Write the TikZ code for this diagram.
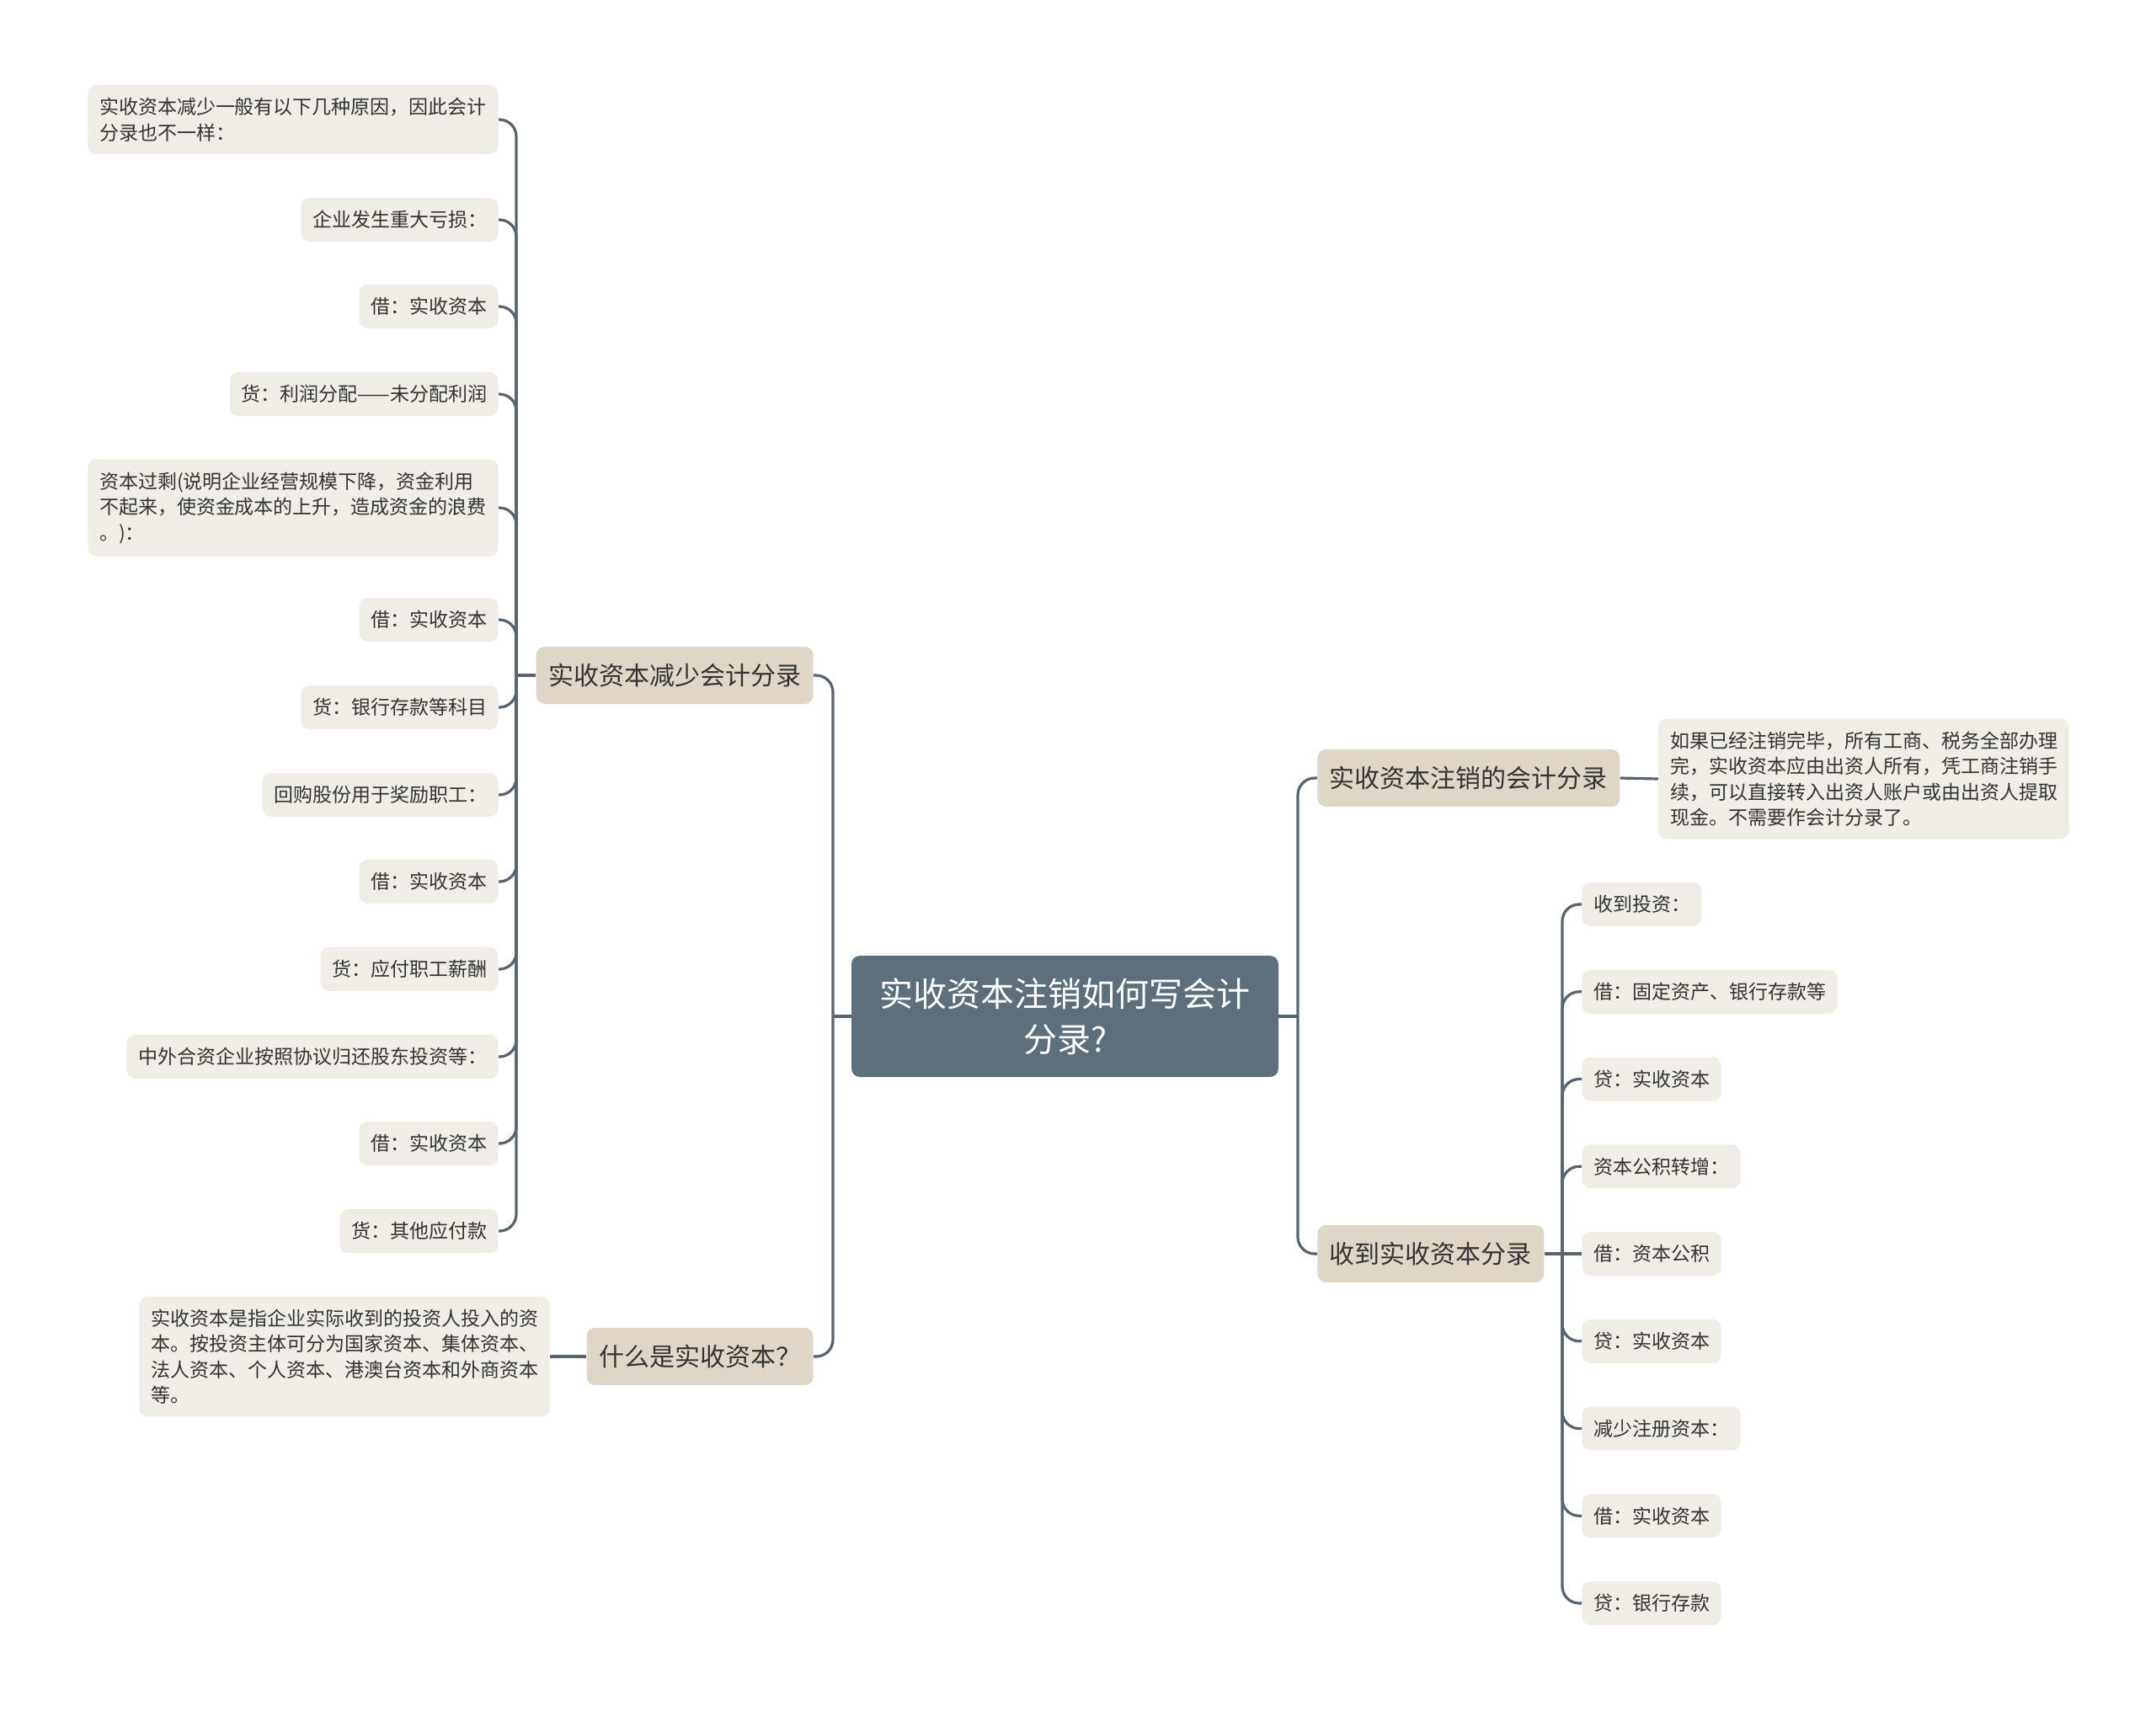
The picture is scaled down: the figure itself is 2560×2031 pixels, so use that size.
\documentclass[tikz,border=0pt]{standalone}
\usepackage{fontspec}
\setmainfont{Noto Sans CJK SC}
\definecolor{RootSlate}{HTML}{5D6F7B}
\definecolor{BranchTan}{HTML}{E0D6C8}
\definecolor{LeafCream}{HTML}{F0EDE6}
\definecolor{LineSlate}{HTML}{56656F}
\definecolor{InkGray}{HTML}{333333}
\tikzset{
  rootbox/.style  = {fill=RootSlate, rounded corners=5pt, align=center, text=white,
                     font=\fontsize{20}{27}\selectfont, minimum width=253.5pt,
                     minimum height=72pt, inner sep=0pt},
  branch/.style   = {fill=BranchTan, rounded corners=5pt, text=InkGray,
                     font=\fontsize{15}{18}\selectfont, minimum height=34pt,
                     inner xsep=7.25pt},
  leaf/.style     = {fill=LeafCream, rounded corners=5pt, text=InkGray, align=left,
                     font=\fontsize{11.5}{15.25}\selectfont, minimum height=26pt,
                     inner xsep=6.8pt, inner ysep=7.5pt},
  leafl/.style    = {leaf, anchor=east},
  leafr/.style    = {leaf, anchor=west},
  conn/.style     = {draw=LineSlate, line width=1.6pt},
  connr/.style    = {conn, rounded corners=10pt},
}
\begin{document}
\begin{tikzpicture}[x=0.5pt, y=-0.5pt]
  \useasboundingbox (0,0) rectangle (2560,2031);
  % centre
  \node[rootbox] (root) at (1264.5,1207) {实收资本注销如何写会计\\分录?};
  % main branches
  \node[branch, anchor=east] (dec)  at (966,802)   {实收资本减少会计分录};
  \node[branch, anchor=east] (what) at (966,1611)  {什么是实收资本？};
  \node[branch, anchor=west] (cut)  at (1564,924)  {实收资本注销的会计分录};
  \node[branch, anchor=west] (recv) at (1564,1489) {收到实收资本分录};
  % left leaves
  \node[leafl] (dec1)  at (592,142)  {实收资本减少一般有以下几种原因，因此会计\\分录也不一样：};
  \node[leafl] (dec2)  at (592,261)  {企业发生重大亏损：};
  \node[leafl] (dec3)  at (592,364)  {借：实收资本};
  \node[leafl] (dec4)  at (592,468)  {货：利润分配——未分配利润};
  \node[leafl] (dec5)  at (592,603)  {资本过剩(说明企业经营规模下降，资金利用\\不起来，使资金成本的上升，造成资金的浪费\\。)：};
  \node[leafl] (dec6)  at (592,736)  {借：实收资本};
  \node[leafl] (dec7)  at (592,840)  {货：银行存款等科目};
  \node[leafl] (dec8)  at (592,944)  {回购股份用于奖励职工：};
  \node[leafl] (dec9)  at (592,1047) {借：实收资本};
  \node[leafl] (dec10) at (592,1151) {货：应付职工薪酬};
  \node[leafl] (dec11) at (592,1255) {中外合资企业按照协议归还股东投资等：};
  \node[leafl] (dec12) at (592,1358) {借：实收资本};
  \node[leafl] (dec13) at (592,1462) {货：其他应付款};
  \node[leafl] (whatnote) at (653,1611) {实收资本是指企业实际收到的投资人投入的资\\本。按投资主体可分为国家资本、集体资本、\\法人资本、个人资本、港澳台资本和外商资本\\等。};
  % right leaves
  \node[leafr] (cutnote) at (1969,925) {如果已经注销完毕，所有工商、税务全部办理\\完，实收资本应由出资人所有，凭工商注销手\\续，可以直接转入出资人账户或由出资人提取\\现金。不需要作会计分录了。};
  \node[leafr] (recv1) at (1878,1074)   {收到投资：};
  \node[leafr] (recv2) at (1878,1177.75) {借：固定资产、银行存款等};
  \node[leafr] (recv3) at (1878,1281.5)  {贷：实收资本};
  \node[leafr] (recv4) at (1878,1385.25) {资本公积转增：};
  \node[leafr] (recv5) at (1878,1489)    {借：资本公积};
  \node[leafr] (recv6) at (1878,1592.75) {贷：实收资本};
  \node[leafr] (recv7) at (1878,1696.5)  {减少注册资本：};
  \node[leafr] (recv8) at (1878,1800.25) {借：实收资本};
  \node[leafr] (recv9) at (1878,1904)    {贷：银行存款};
  % connectors
  \draw[conn] (root.west) -- (989,1207) coordinate (lroot);
  \draw[conn] (root.east) -- (1541,1207) coordinate (rroot);
  \foreach \n in {dec,what} \draw[connr] (lroot) |- (\n.east);
  \foreach \n in {cut,recv} \draw[connr] (rroot) |- (\n.west);
  \draw[conn] (dec.west) -- (613,802) coordinate (dectrunk);
  \foreach \n in {dec1,dec2,dec3,dec4,dec5,dec6,dec7,dec8,dec9,dec10,dec11,dec12,dec13}
    \draw[connr] (dectrunk) |- (\n.east);
  \draw[conn] (what.west) -- (whatnote.east);
  \draw[conn] (cut.east) -- (cutnote.west);
  \draw[conn] (recv.east) -- (1855,1489) coordinate (recvtrunk);
  \foreach \n in {recv1,recv2,recv3,recv4,recv6,recv7,recv8,recv9}
    \draw[connr] (recvtrunk) |- (\n.west);
  \draw[conn] (recvtrunk) -- (recv5.west);
\end{tikzpicture}
\end{document}
